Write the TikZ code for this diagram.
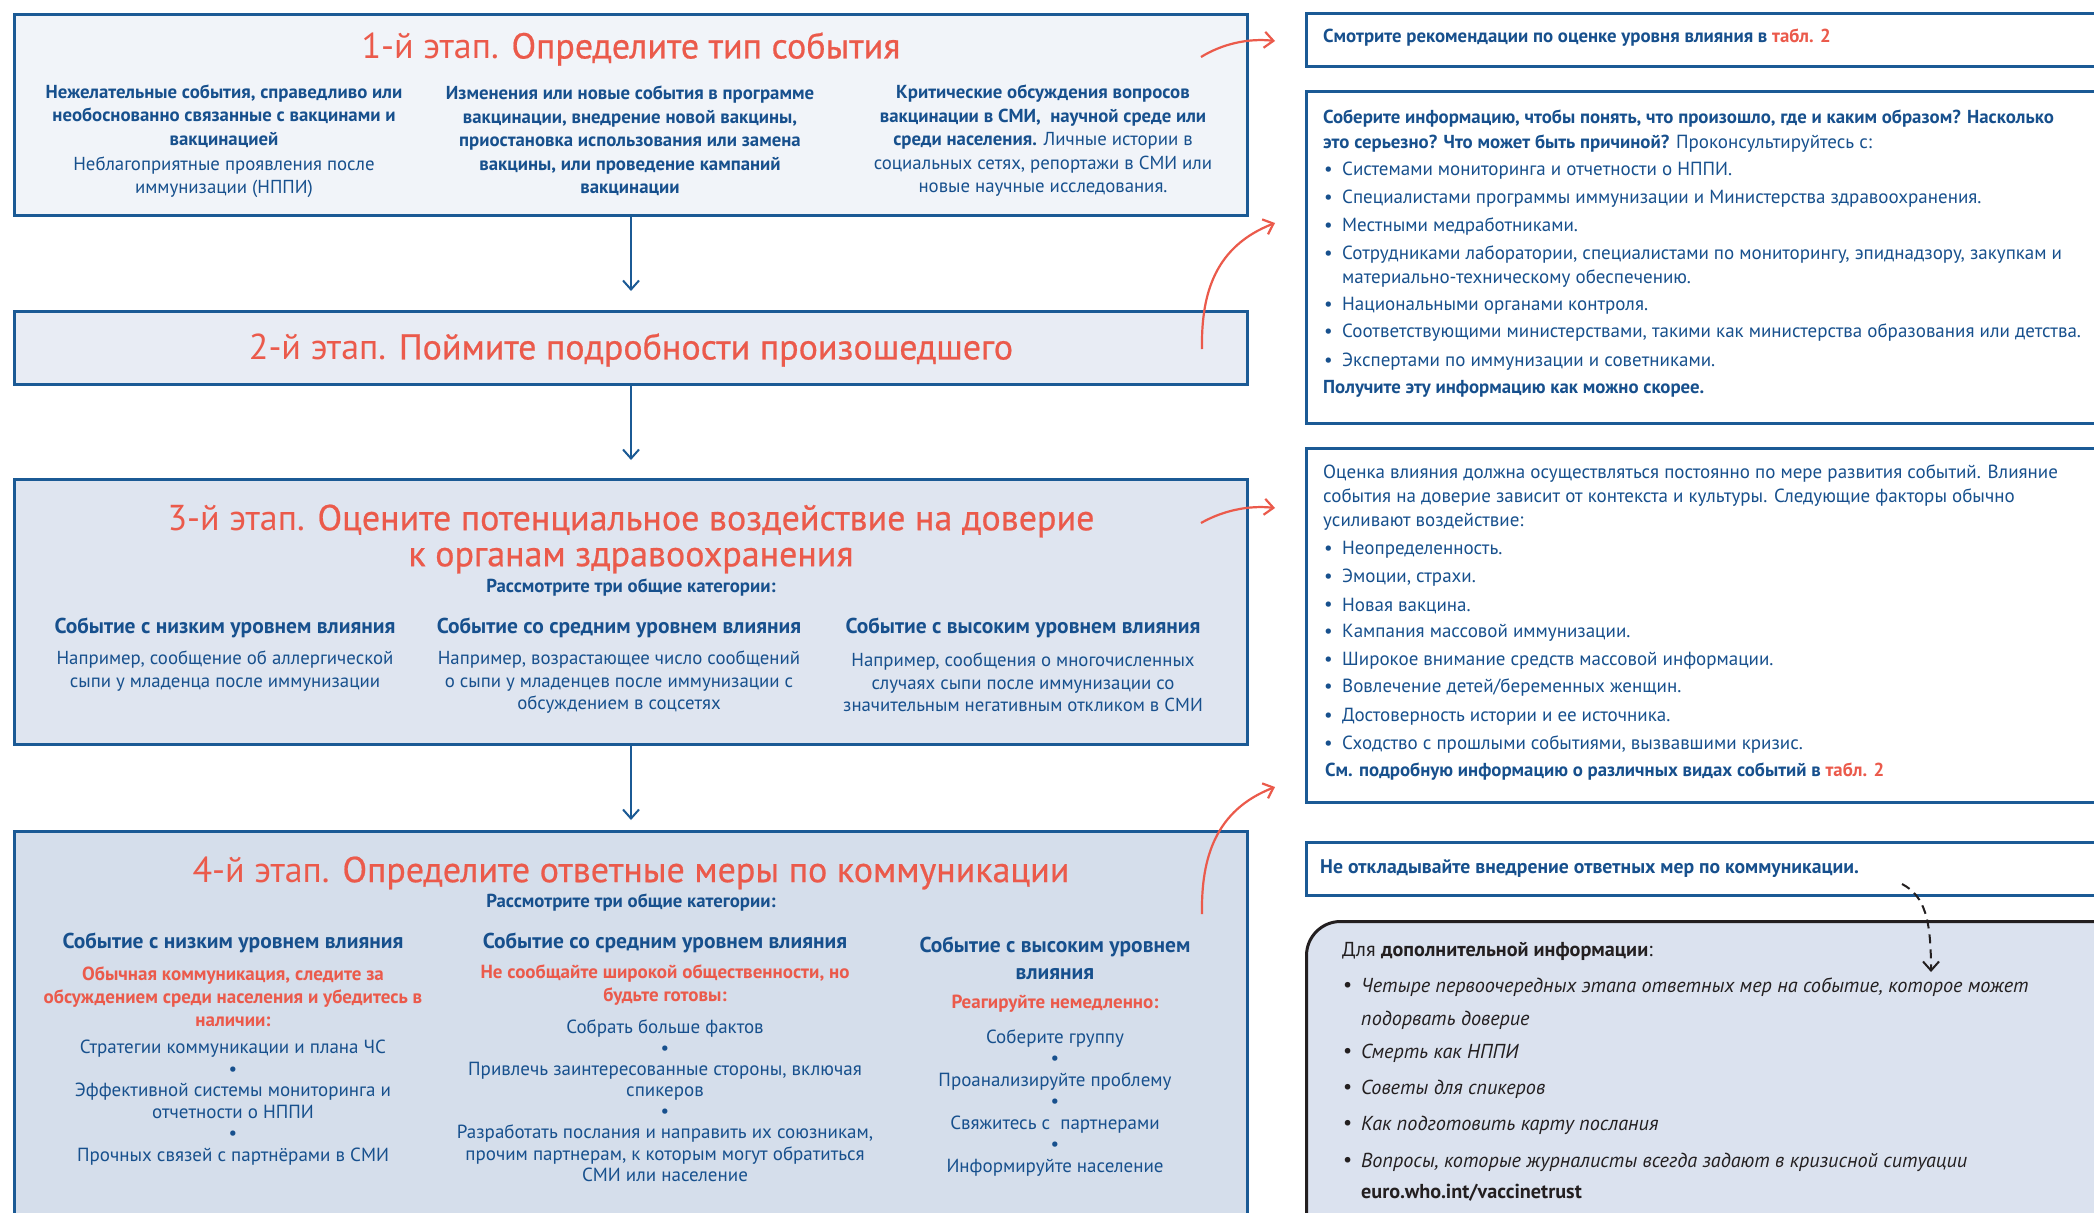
\documentclass[tikz,border=0pt]{standalone}
\usepackage{fontspec}
\setmainfont{PT Sans}
\newfontfamily\medfont[FakeBold=0.6]{PT Sans}
\usetikzlibrary{arrows.meta}
\definecolor{bt}{HTML}{17508D}
\definecolor{bb}{HTML}{1B5A95}
\definecolor{rt}{HTML}{EB5A4B}
\definecolor{fa}{HTML}{F1F4F9}
\definecolor{fb}{HTML}{E8ECF4}
\definecolor{fc}{HTML}{DFE5F0}
\definecolor{fd}{HTML}{D5DEEB}
\definecolor{fe}{HTML}{DBE2EF}
\definecolor{ink}{HTML}{231F20}
\tikzset{
  stagebox/.style={draw=bb, line width=3pt, anchor=north west, inner sep=0pt},
  sidebox/.style={draw=bb, line width=3pt, fill=white, anchor=north west, inner sep=0pt, minimum width=820pt},
  stitle/.style={text=rt, inner sep=0pt, align=center, font=\fontsize{36}{36}\selectfont},
  body/.style={text=bt, inner sep=0pt, align=center, font=\fontsize{18.8}{23.5}\selectfont},
  bbody/.style={text=bt, inner sep=0pt, align=center, font=\fontsize{18.8}{23.5}\selectfont\bfseries},
  chead/.style={text=bt, inner sep=0pt, align=center, font=\fontsize{21.5}{26}\selectfont\bfseries},
  consider/.style={text=bt, inner sep=0pt, font=\fontsize{18.8}{20}\selectfont\bfseries},
  redb/.style={text=rt, inner sep=0pt, align=center, font=\fontsize{19}{23}\selectfont\bfseries},
  items/.style={text=bt, inner sep=0pt, align=center, font=\fontsize{19}{21.5}\selectfont},
  sidetxt/.style={text=bt, inner sep=0pt, anchor=west, font=\fontsize{19}{20}\selectfont},
  sidebold/.style={sidetxt, font=\fontsize{18.8}{20}\selectfont\bfseries},
  moretxt/.style={text=ink, inner sep=0pt, anchor=west, font=\fontsize{20.2}{24}\selectfont},
  flowarrow/.style={draw=bb, line width=2pt, -{Straight Barb[length=9pt,width=16pt,line width=2pt]}},
  redarrow/.style={draw=rt, line width=2.2pt, -{Straight Barb[length=9pt,width=16pt,line width=2.2pt]}},
  dasharrow/.style={draw=ink, line width=2pt, dash pattern=on 9pt off 6pt, -{Straight Barb[length=9pt,width=16pt,line width=2pt]}}
}
\newcommand{\stg}[2]{#1 {\medfont #2}}
\begin{document}
\begin{tikzpicture}[x=1pt,y=-1pt]
\clip (0,0) rectangle (2094,1213);
\fill[white] (0,0) rectangle (2094,1213);

% ---------- stage boxes ----------
\node[stagebox, fill=fa, minimum width=1233pt, minimum height=201pt] (s1) at (13,13) {};
\node[stagebox, fill=fb, minimum width=1233pt, minimum height=73pt] (s2) at (13,310) {};
\node[stagebox, fill=fc, minimum width=1233pt, minimum height=265pt] (s3) at (13,478) {};
\node[stagebox, fill=fd, minimum width=1233pt, minimum height=420pt] (s4) at (13,830) {};

% flow arrows
\draw[flowarrow, shorten >=19pt] (s1.south) -- (s2.north);
\draw[flowarrow, shorten >=18pt] (s2.south) -- (s3.north);
\draw[flowarrow, shorten >=10pt] (s3.south) -- (s4.north);

% ---------- stage 1 ----------
\node[stitle] (t1) at (631,49) {\stg{1-й этап.}{Определите тип события}};
\node[body] (c11) at (224,141) {\textbf{Нежелательные события, справедливо или}\\\textbf{необоснованно связанные с вакцинами и}\\\textbf{вакцинацией}\\[1.5pt]Неблагоприятные проявления после\\иммунизации (НППИ)};
\node[bbody] (c12) at (630,141) {Изменения или новые события в программе\\вакцинации, внедрение новой вакцины,\\приостановка использования или замена\\вакцины, или проведение кампаний\\вакцинации};
\node[body] (c13) at (1043,141) {\textbf{Критические обсуждения вопросов}\\\textbf{вакцинации в СМИ,\ \ научной среде или}\\\textbf{среди населения.} Личные истории в\\социальных сетях, репортажи в СМИ или\\новые научные исследования.};

% ---------- stage 2 ----------
\node[stitle] (t2) at (631,350) {\stg{2-й этап.}{Поймите подробности произошедшего}};

% ---------- stage 3 ----------
\node[stitle] (t3) at (631,539) {\stg{3-й этап.}{Оцените потенциальное воздействие на доверие}\\{\medfont к органам здравоохранения}};
\node[consider] (k3) at (631,588) {Рассмотрите три общие категории:};
\node[chead] (h31) at (225,628) {Событие с низким уровнем влияния};
\node[chead] (h32) at (619,628) {Событие со средним уровнем влияния};
\node[chead] (h33) at (1023,628) {Событие с высоким уровнем влияния};
\node[items, font=\fontsize{18.8}{22.5}\selectfont] (b31) at (225,671) {Например, сообщение об аллергической\\сыпи у младенца после иммунизации};
\node[items, font=\fontsize{18.8}{22.5}\selectfont] (b32) at (619,682.5) {Например, возрастающее число сообщений\\о сыпи у младенцев после иммунизации с\\обсуждением в соцсетях};
\node[items, font=\fontsize{18.8}{22.5}\selectfont] (b33) at (1023,682.5) {Например, сообщения о многочисленных\\случаях сыпи после иммунизации со\\значительным негативным откликом в СМИ};

% ---------- stage 4 ----------
\node[stitle] (t4) at (631,873) {\stg{4-й этап.}{Определите ответные меры по коммуникации}};
\node[consider] (k4) at (631,903) {Рассмотрите три общие категории:};
\node[chead] (h41) at (233,943) {Событие с низким уровнем влияния};
\node[chead] (h42) at (665,943) {Событие со средним уровнем влияния};
\node[chead, font=\fontsize{21.5}{27}\selectfont\bfseries] (h43) at (1055,958) {Событие с высоким уровнем\\влияния};
\node[redb] (r41) at (233,997) {Обычная коммуникация, следите за\\обсуждением среди населения и убедитесь в\\наличии:};
\node[redb] (r42) at (665,985.5) {Не сообщайте широкой общественности, но\\будьте готовы:};
\node[redb] (r43) at (1055,1003.5) {Реагируйте немедленно:};
\node[items] (i41) at (233,1102.5) {Стратегии коммуникации и плана ЧС\\•\\Эффективной системы мониторинга и\\отчетности о НППИ\\•\\Прочных связей с партнёрами в СМИ};
\node[items, font=\fontsize{19}{21.1}\selectfont] (i42) at (665,1100.5) {Собрать больше фактов\\•\\Привлечь заинтересованные стороны, включая\\спикеров\\•\\Разработать послания и направить их союзникам,\\прочим партнерам, к которым могут обратиться\\СМИ или население};
\node[items] (i43) at (1055,1103) {Соберите группу\\•\\Проанализируйте проблему\\•\\Свяжитесь с\ \ партнерами\\•\\Информируйте население};

% ---------- side boxes ----------
\node[sidebox, minimum height=53pt] (q1) at (1305,12) {};
\node[sidebox, minimum height=332pt] (q2) at (1305,90) {};
\node[sidebox, minimum height=354pt] (q3) at (1305,447) {};
\node[sidebox, minimum height=53pt] (q4) at (1305,841) {};
\node[draw=ink, line width=3pt, fill=fe, rounded corners=34pt, anchor=north west, inner sep=0pt, minimum width=830pt, minimum height=360pt] (q5) at (1305,920) {};

% side box 1
\node[sidebold] (q1t) at (1323,38) {Смотрите рекомендации по оценке уровня влияния в \textcolor{rt}{табл. 2}};

% side box 2
\node[sidebold] (q2a) at (1323,119) {Соберите информацию, чтобы понять, что произошло, где и каким образом? Насколько};
\node[sidetxt] (q2b) at (1323,144) {\textbf{\fontsize{18.8}{20}\selectfont это серьезно? Что может быть причиной?} Проконсультируйтесь с:};
\foreach \yy/\txt [count=\i] in {171/{Системами мониторинга и отчетности о НППИ.},
  199/{Специалистами программы иммунизации и Министерства здравоохранения.},
  227/{Местными медработниками.},
  255/{Сотрудниками лаборатории, специалистами по мониторингу, эпиднадзору, закупкам и},
  306/{Национальными органами контроля.},
  333/{Соответствующими министерствами, такими как министерства образования или детства.},
  362/{Экспертами по иммунизации и советниками.}}
{
  \node[sidetxt] (q2d\i) at (1324,\yy) {•};
  \node[sidetxt] (q2i\i) at (1342,\yy) {\txt};
}
\node[sidetxt] (q2c) at (1342,279) {материально-техническому обеспечению.};
\node[sidebold] (q2e) at (1323,389) {Получите эту информацию как можно скорее.};

% side box 3
\node[sidetxt] (q3a) at (1323,474) {Оценка влияния должна осуществляться постоянно по мере развития событий. Влияние};
\node[sidetxt] (q3b) at (1323,498) {события на доверие зависит от контекста и культуры. Следующие факторы обычно};
\node[sidetxt] (q3c) at (1323,522) {усиливают воздействие:};
\foreach \yy/\txt [count=\i] in {550/{Неопределенность.},
  578/{Эмоции, страхи.},
  606/{Новая вакцина.},
  633/{Кампания массовой иммунизации.},
  661/{Широкое внимание средств массовой информации.},
  688/{Вовлечение детей/беременных женщин.},
  717/{Достоверность истории и ее источника.},
  745/{Сходство с прошлыми событиями, вызвавшими кризис.}}
{
  \node[sidetxt] (q3d\i) at (1324,\yy) {•};
  \node[sidetxt] (q3i\i) at (1342,\yy) {\txt};
}
\node[sidebold] (q3e) at (1325,772) {См. подробную информацию о различных видах событий в \textcolor{rt}{табл. 2}};

% side box 4
\node[sidebold, font=\fontsize{19.7}{20}\selectfont\bfseries] (q4t) at (1320,869) {Не откладывайте внедрение ответных мер по коммуникации.};

% side box 5
\node[moretxt] (q5h) at (1342,951) {Для \textbf{дополнительной информации}:};
\foreach \yy/\txt [count=\i] in {987/{Четыре первоочередных этапа ответных мер на событие, которое может},
  1053/{Смерть как НППИ},
  1089/{Советы для спикеров},
  1125/{Как подготовить карту послания},
  1162/{Вопросы, которые журналисты всегда задают в кризисной ситуации}}
{
  \node[moretxt] (q5d\i) at (1343,\yy) {•};
  \node[moretxt, font=\fontsize{20.2}{24}\selectfont\itshape] (q5i\i) at (1361,\yy) {\txt};
}
\node[moretxt, font=\fontsize{20.2}{24}\selectfont\itshape] (q5c) at (1361,1020) {подорвать доверие};
\node[moretxt, font=\fontsize{20.2}{24}\selectfont\bfseries] (q5u) at (1361,1193) {euro.who.int/vaccinetrust};

% ---------- red connectors ----------
\coordinate (a1s) at (1201,57);  \coordinate (a1e) at (1275,41);
\coordinate (a2s) at (1202,349); \coordinate (a2e) at (1275,223);
\coordinate (a3s) at (1201,523); \coordinate (a3e) at (1275,508);
\coordinate (a4s) at (1202,914); \coordinate (a4e) at (1275,787);
\draw[redarrow] (a1s) .. controls (1222,44) and (1248,38) .. (a1e);
\draw[redarrow] (a2s) .. controls (1201,292) and (1216,246) .. (a2e);
\draw[redarrow] (a3s) .. controls (1222,511) and (1248,505) .. (a3e);
\draw[redarrow] (a4s) .. controls (1201,857) and (1216,810) .. (a4e);

% dashed connector
\coordinate (d1s) at (1902,884);
\coordinate (d1e) at (1931,972);
\draw[dasharrow] (d1s) .. controls (1925,896) and (1931,920) .. (d1e);
\end{tikzpicture}
\end{document}
